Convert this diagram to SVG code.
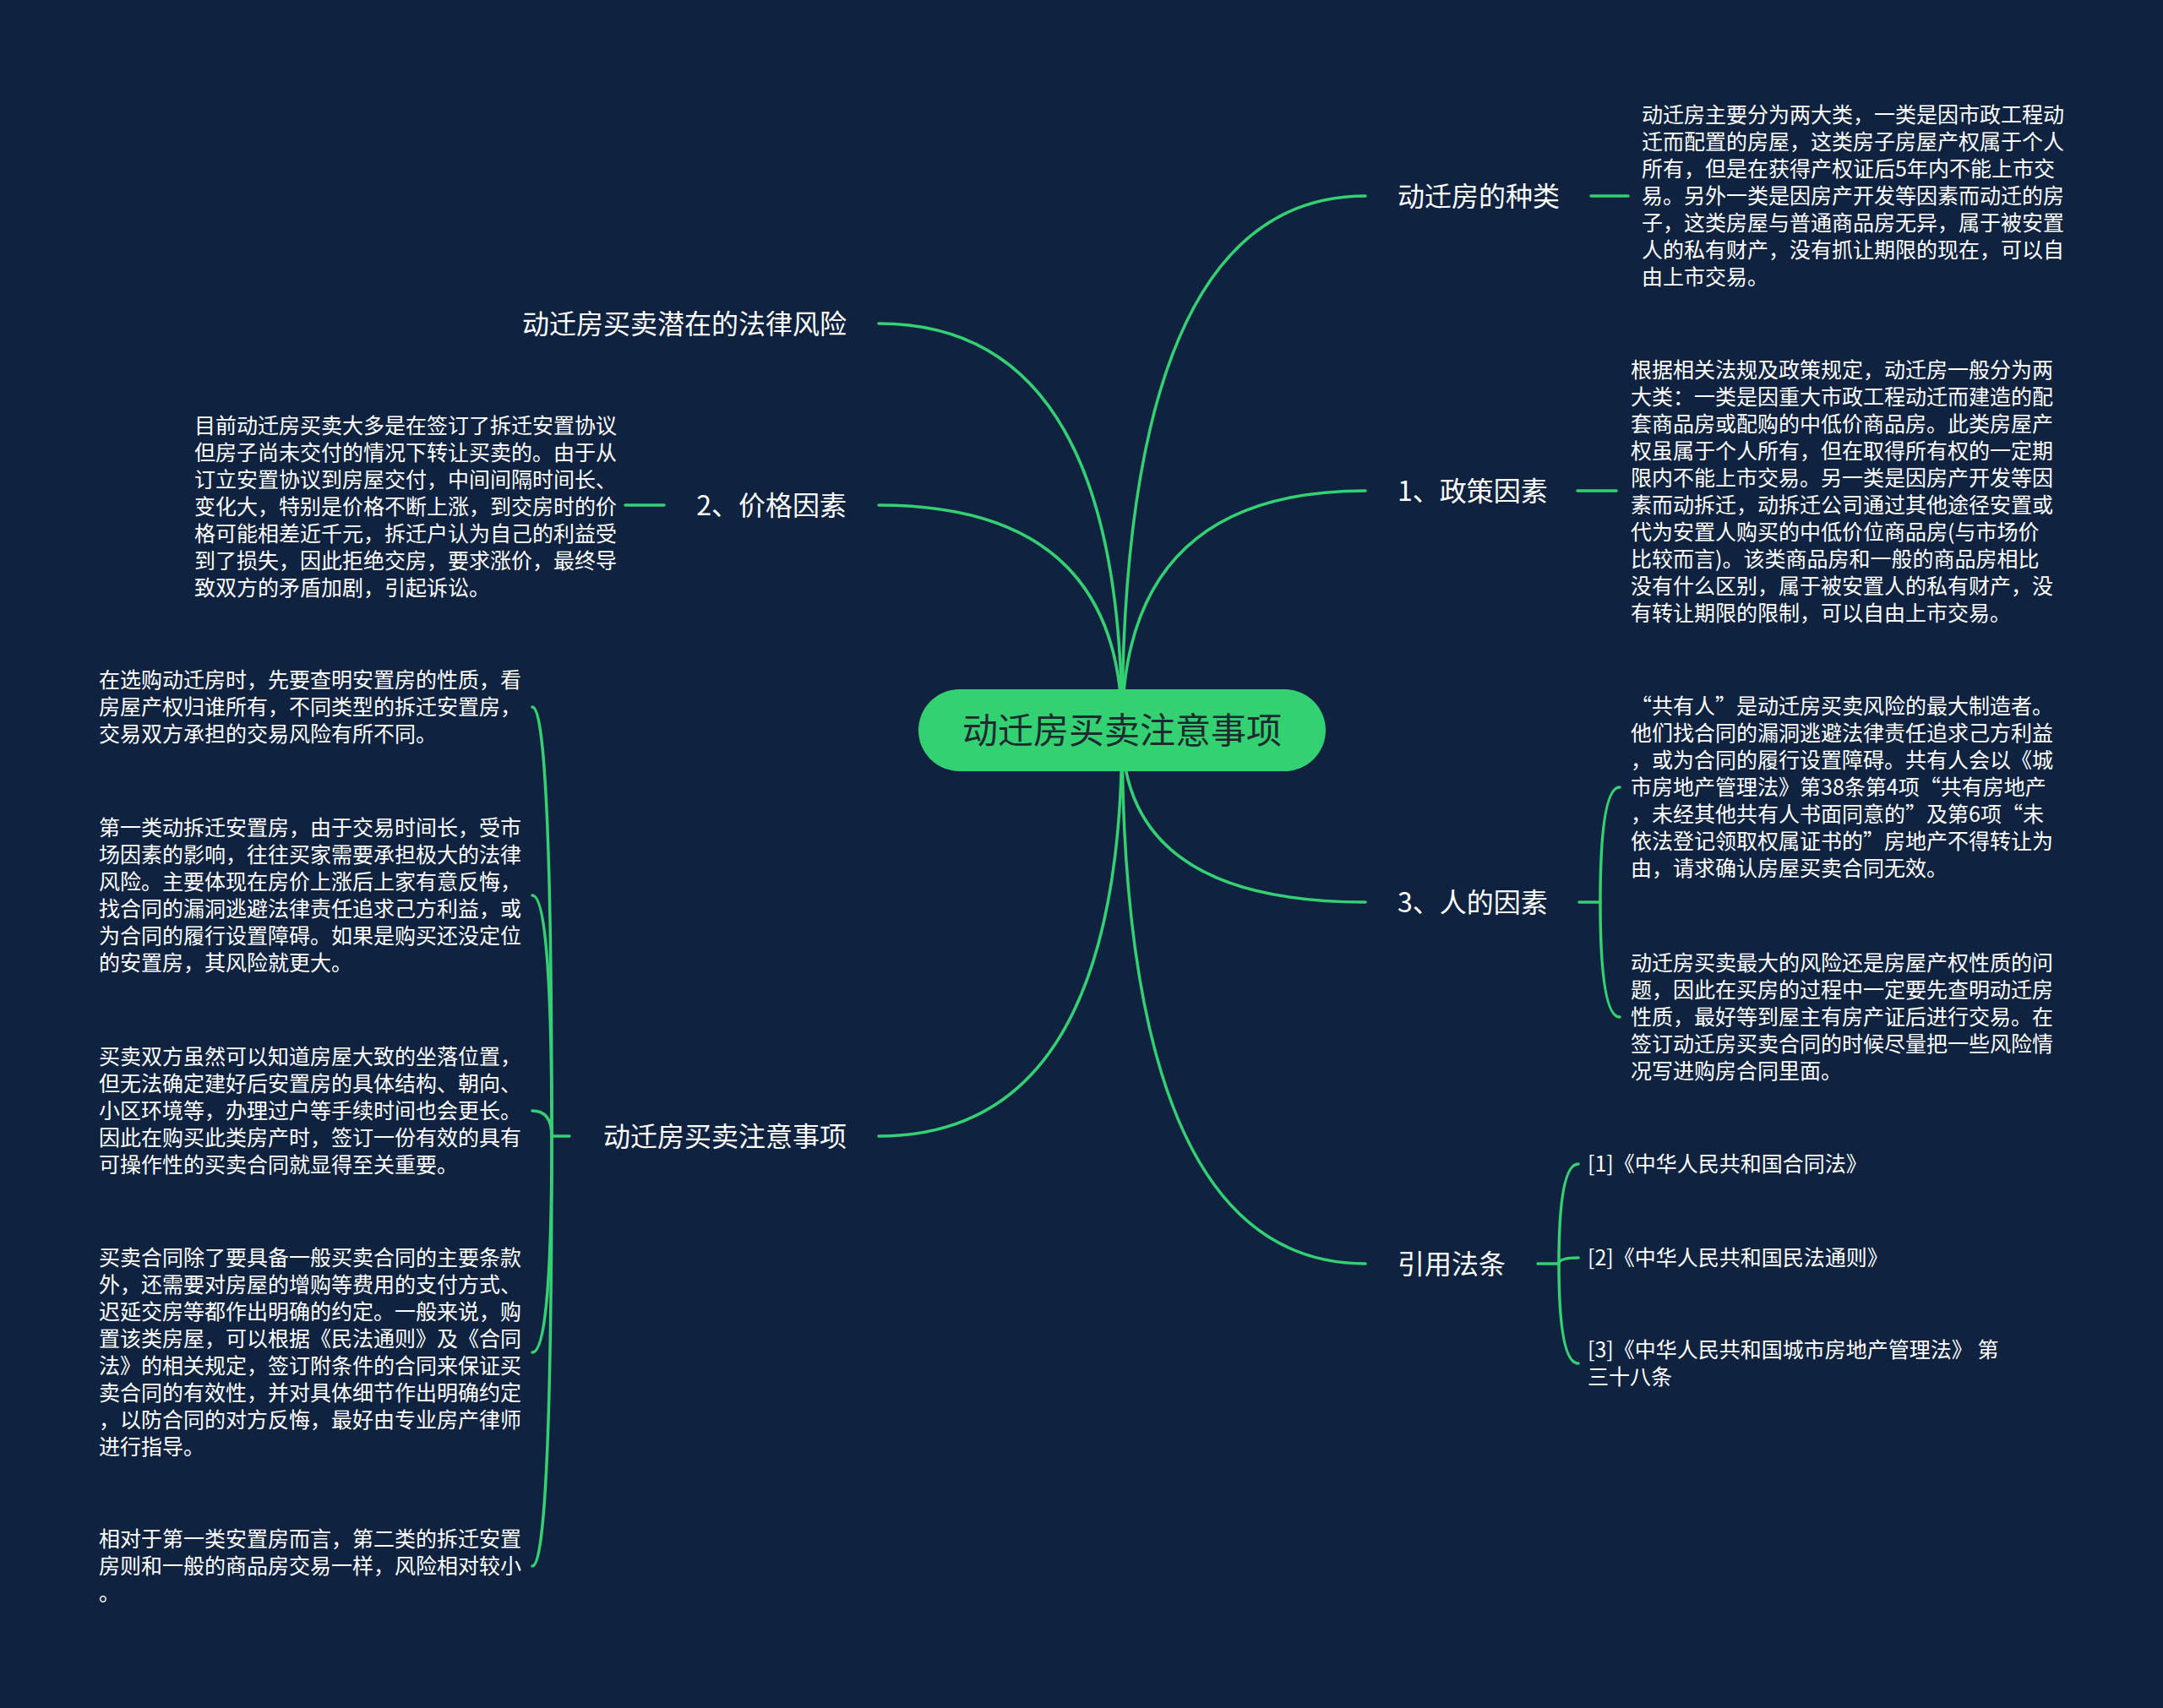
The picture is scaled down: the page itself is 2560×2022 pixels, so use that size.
<svg xmlns="http://www.w3.org/2000/svg" width="2560" height="2022" viewBox="0 0 2560 2022">
<style>
.bg{fill:#0f2341}
.ln{fill:none;stroke:#33d172;stroke-width:3.5;stroke-linecap:round}
.lb{font-family:"Noto Sans CJK SC","Noto Sans",sans-serif;font-size:32px;fill:#ffffff}
.lf{font-family:"Noto Sans CJK SC","Noto Sans",sans-serif;font-size:25px;fill:#ffffff}
.rt{font-family:"Noto Sans CJK SC","Noto Sans",sans-serif;font-size:42px;fill:#1d2a30}
</style>
<rect class="bg" x="0" y="0" width="2560" height="2022"/>
<g id="connectors">
<path class="ln" d="M1328 864 Q1328 232 1616 232"/>
<path class="ln" d="M1328 864 Q1328 581 1616 581"/>
<path class="ln" d="M1328 864 Q1328 1068 1616 1068"/>
<path class="ln" d="M1328 864 Q1328 1496 1616 1496"/>
<path class="ln" d="M1328 864 Q1328 383 1040 383"/>
<path class="ln" d="M1328 864 Q1328 598 1040 598"/>
<path class="ln" d="M1328 864 Q1328 1345 1040 1345"/>
<path class="ln" d="M1883 232 L1927 232"/>
<path class="ln" d="M1867 581 L1913 581"/>
<path class="ln" d="M786 598 L740 598"/>
<path class="ln" d="M1869 1068 L1894 1068"/>
<path class="ln" d="M1894 1068 Q1894 932 1917 932"/>
<path class="ln" d="M1894 1068 Q1894 1204 1917 1204"/>
<path class="ln" d="M1820 1496 L1845 1496"/>
<path class="ln" d="M1845 1496 Q1845 1378 1868 1378"/>
<path class="ln" d="M1845 1496 Q1845 1489 1868 1489"/>
<path class="ln" d="M1845 1496 Q1845 1614 1868 1614"/>
<path class="ln" d="M674 1345 L653 1345"/>
<path class="ln" d="M653 1345 Q653 837 630 837"/>
<path class="ln" d="M653 1345 Q653 1060 630 1060"/>
<path class="ln" d="M653 1345 Q653 1315 630 1315"/>
<path class="ln" d="M653 1345 Q653 1601 630 1601"/>
<path class="ln" d="M653 1345 Q653 1854 630 1854"/>
</g>
<g id="root">
<rect x="1087" y="816" width="482" height="97" rx="48.5" fill="#33d172"/>
<text class="rt" x="1328" y="880" text-anchor="middle">动迁房买卖注意事项</text>
</g>
<g id="n-zhonglei"><text class="lb" x="1654" y="244">动迁房的种类</text></g>
<g id="n-zhengce"><text class="lb" x="1654" y="593">1、政策因素</text></g>
<g id="n-ren"><text class="lb" x="1654" y="1080">3、人的因素</text></g>
<g id="n-yinyong"><text class="lb" x="1654" y="1508">引用法条</text></g>
<g id="n-fengxian"><text class="lb" x="1002" y="395" text-anchor="end">动迁房买卖潜在的法律风险</text></g>
<g id="n-jiage"><text class="lb" x="1002" y="610" text-anchor="end">2、价格因素</text></g>
<g id="n-zhuyi"><text class="lb" x="1002" y="1357" text-anchor="end">动迁房买卖注意事项</text></g>
<g id="leaf-zhonglei"><text class="lf">
<tspan x="1943" y="145">动迁房主要分为两大类，一类是因市政工程动</tspan>
<tspan x="1943" y="177">迁而配置的房屋，这类房子房屋产权属于个人</tspan>
<tspan x="1943" y="209">所有，但是在获得产权证后5年内不能上市交</tspan>
<tspan x="1943" y="241">易。另外一类是因房产开发等因素而动迁的房</tspan>
<tspan x="1943" y="273">子，这类房屋与普通商品房无异，属于被安置</tspan>
<tspan x="1943" y="305">人的私有财产，没有抓让期限的现在，可以自</tspan>
<tspan x="1943" y="337">由上市交易。</tspan>
</text></g>
<g id="leaf-zhengce"><text class="lf">
<tspan x="1930" y="447">根据相关法规及政策规定，动迁房一般分为两</tspan>
<tspan x="1930" y="479">大类：一类是因重大市政工程动迁而建造的配</tspan>
<tspan x="1930" y="511">套商品房或配购的中低价商品房。此类房屋产</tspan>
<tspan x="1930" y="543">权虽属于个人所有，但在取得所有权的一定期</tspan>
<tspan x="1930" y="575">限内不能上市交易。另一类是因房产开发等因</tspan>
<tspan x="1930" y="607">素而动拆迁，动拆迁公司通过其他途径安置或</tspan>
<tspan x="1930" y="639">代为安置人购买的中低价位商品房(与市场价</tspan>
<tspan x="1930" y="671">比较而言)。该类商品房和一般的商品房相比</tspan>
<tspan x="1930" y="703">没有什么区别，属于被安置人的私有财产，没</tspan>
<tspan x="1930" y="735">有转让期限的限制，可以自由上市交易。</tspan>
</text></g>
<g id="leaf-ren-1"><text class="lf">
<tspan x="1930" y="845">“共有人”是动迁房买卖风险的最大制造者。</tspan>
<tspan x="1930" y="877">他们找合同的漏洞逃避法律责任追求己方利益</tspan>
<tspan x="1930" y="909">，或为合同的履行设置障碍。共有人会以《城</tspan>
<tspan x="1930" y="941">市房地产管理法》第38条第4项“共有房地产</tspan>
<tspan x="1930" y="973">，未经其他共有人书面同意的”及第6项“未</tspan>
<tspan x="1930" y="1005">依法登记领取权属证书的”房地产不得转让为</tspan>
<tspan x="1930" y="1037">由，请求确认房屋买卖合同无效。</tspan>
</text></g>
<g id="leaf-ren-2"><text class="lf">
<tspan x="1930" y="1149">动迁房买卖最大的风险还是房屋产权性质的问</tspan>
<tspan x="1930" y="1181">题，因此在买房的过程中一定要先查明动迁房</tspan>
<tspan x="1930" y="1213">性质，最好等到屋主有房产证后进行交易。在</tspan>
<tspan x="1930" y="1245">签订动迁房买卖合同的时候尽量把一些风险情</tspan>
<tspan x="1930" y="1277">况写进购房合同里面。</tspan>
</text></g>
<g id="leaf-law-1"><text class="lf" x="1879" y="1387">[1]《中华人民共和国合同法》</text></g>
<g id="leaf-law-2"><text class="lf" x="1879" y="1498">[2]《中华人民共和国民法通则》</text></g>
<g id="leaf-law-3"><text class="lf">
<tspan x="1879" y="1607">[3]《中华人民共和国城市房地产管理法》 第</tspan>
<tspan x="1879" y="1639">三十八条</tspan>
</text></g>
<g id="leaf-jiage"><text class="lf">
<tspan x="230" y="513">目前动迁房买卖大多是在签订了拆迁安置协议</tspan>
<tspan x="230" y="545">但房子尚未交付的情况下转让买卖的。由于从</tspan>
<tspan x="230" y="577">订立安置协议到房屋交付，中间间隔时间长、</tspan>
<tspan x="230" y="609">变化大，特别是价格不断上涨，到交房时的价</tspan>
<tspan x="230" y="641">格可能相差近千元，拆迁户认为自己的利益受</tspan>
<tspan x="230" y="673">到了损失，因此拒绝交房，要求涨价，最终导</tspan>
<tspan x="230" y="705">致双方的矛盾加剧，引起诉讼。</tspan>
</text></g>
<g id="leaf-zhuyi-1"><text class="lf">
<tspan x="117" y="814">在选购动迁房时，先要查明安置房的性质，看</tspan>
<tspan x="117" y="846">房屋产权归谁所有，不同类型的拆迁安置房，</tspan>
<tspan x="117" y="878">交易双方承担的交易风险有所不同。</tspan>
</text></g>
<g id="leaf-zhuyi-2"><text class="lf">
<tspan x="117" y="989">第一类动拆迁安置房，由于交易时间长，受市</tspan>
<tspan x="117" y="1021">场因素的影响，往往买家需要承担极大的法律</tspan>
<tspan x="117" y="1053">风险。主要体现在房价上涨后上家有意反悔，</tspan>
<tspan x="117" y="1085">找合同的漏洞逃避法律责任追求己方利益，或</tspan>
<tspan x="117" y="1117">为合同的履行设置障碍。如果是购买还没定位</tspan>
<tspan x="117" y="1149">的安置房，其风险就更大。</tspan>
</text></g>
<g id="leaf-zhuyi-3"><text class="lf">
<tspan x="117" y="1260">买卖双方虽然可以知道房屋大致的坐落位置，</tspan>
<tspan x="117" y="1292">但无法确定建好后安置房的具体结构、朝向、</tspan>
<tspan x="117" y="1324">小区环境等，办理过户等手续时间也会更长。</tspan>
<tspan x="117" y="1356">因此在购买此类房产时，签订一份有效的具有</tspan>
<tspan x="117" y="1388">可操作性的买卖合同就显得至关重要。</tspan>
</text></g>
<g id="leaf-zhuyi-4"><text class="lf">
<tspan x="117" y="1498">买卖合同除了要具备一般买卖合同的主要条款</tspan>
<tspan x="117" y="1530">外，还需要对房屋的增购等费用的支付方式、</tspan>
<tspan x="117" y="1562">迟延交房等都作出明确的约定。一般来说，购</tspan>
<tspan x="117" y="1594">置该类房屋，可以根据《民法通则》及《合同</tspan>
<tspan x="117" y="1626">法》的相关规定，签订附条件的合同来保证买</tspan>
<tspan x="117" y="1658">卖合同的有效性，并对具体细节作出明确约定</tspan>
<tspan x="117" y="1690">，以防合同的对方反悔，最好由专业房产律师</tspan>
<tspan x="117" y="1722">进行指导。</tspan>
</text></g>
<g id="leaf-zhuyi-5"><text class="lf">
<tspan x="117" y="1831">相对于第一类安置房而言，第二类的拆迁安置</tspan>
<tspan x="117" y="1863">房则和一般的商品房交易一样，风险相对较小</tspan>
<tspan x="117" y="1895">。</tspan>
</text></g>
</svg>
